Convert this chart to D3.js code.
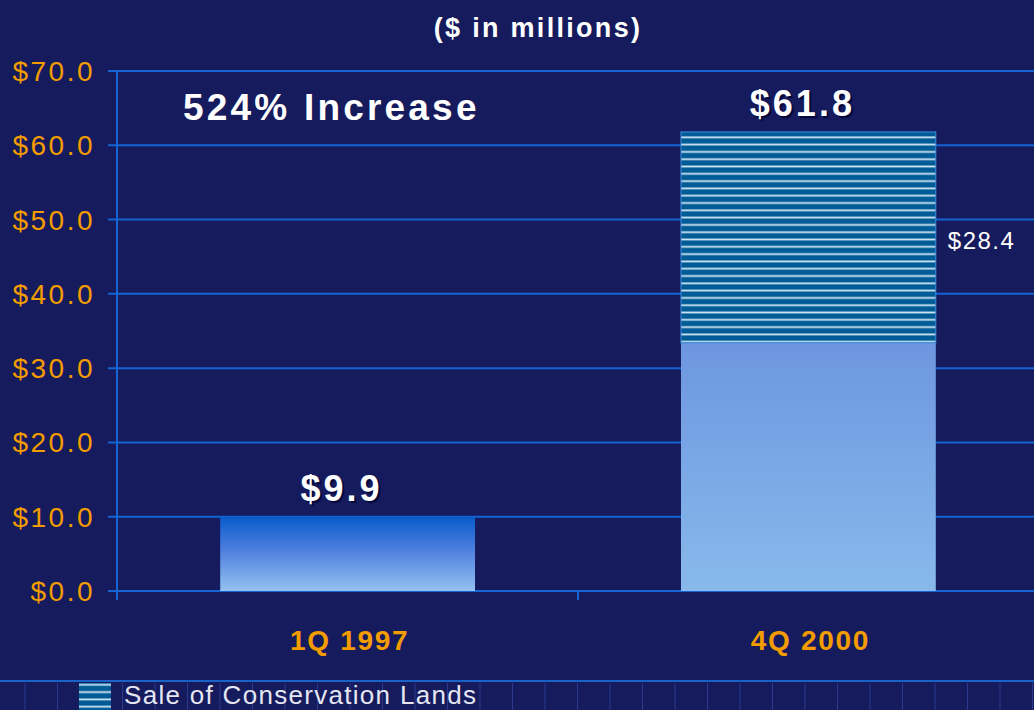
<!DOCTYPE html>
<html>
<head>
<meta charset="utf-8">
<script src="https://cdn.jsdelivr.net/npm/d3@7"></script>
<style>
  html, body { margin: 0; padding: 0; background: #151b5c; }
  svg { display: block; font-family: "Liberation Sans", Arial, sans-serif; }
</style>
</head>
<body>
<div id="chart"></div>
<script>
// data
const categories = ['1Q 1997', '4Q 2000'];
const baseValues = [9.9, 33.4];      // lower (gradient) segment
const landSales = [0, 28.4];         // Sale of Conservation Lands (striped)
const totalLabels = ['$9.9', '$61.8'];
const yTicks = [0, 10, 20, 30, 40, 50, 60, 70];
const legendLabel = 'Sale of Conservation Lands';

const W = 1034, H = 710;
const plotLeft = 117, plotTop = 71, plotBottom = 591, plotRight = 1039;

const svg = d3.select('#chart').append('svg')
  .attr('width', W).attr('height', H);

const defs = svg.append('defs');

// stripes for the land sales segment
const pat = defs.append('pattern')
  .attr('id', 'stripes')
  .attr('patternUnits', 'userSpaceOnUse')
  .attr('width', 8).attr('height', 7.3);
pat.append('rect').attr('width', 8).attr('height', 7.3).attr('fill', '#005c97');
pat.append('rect').attr('y', 5).attr('width', 8).attr('height', 1.8).attr('fill', '#cfe4f2');

const g1 = defs.append('linearGradient').attr('id', 'grad1')
  .attr('x1', 0).attr('y1', 0).attr('x2', 0).attr('y2', 1);
g1.append('stop').attr('offset', '0%').attr('stop-color', '#0a5ccc');
g1.append('stop').attr('offset', '45%').attr('stop-color', '#4f80e0');
g1.append('stop').attr('offset', '100%').attr('stop-color', '#94c2ef');

const g2 = defs.append('linearGradient').attr('id', 'grad2')
  .attr('x1', 0).attr('y1', 0).attr('x2', 0).attr('y2', 1);
g2.append('stop').attr('offset', '0%').attr('stop-color', '#6d96e0');
g2.append('stop').attr('offset', '100%').attr('stop-color', '#88b9eb');

const y = d3.scaleLinear().domain([0, 70]).range([plotBottom, plotTop]);
const x = d3.scaleBand().domain(categories)
  .range([plotLeft, plotRight])
  .paddingInner(0.447)
  .paddingOuter(0.224);

// gridlines
svg.append('g').selectAll('line')
  .data(yTicks)
  .enter().append('line')
  .attr('x1', plotLeft - 9).attr('x2', W)
  .attr('y1', d => y(d)).attr('y2', d => y(d))
  .attr('stroke', '#1565d4').attr('stroke-width', 2);

// y axis line + labels
svg.append('line')
  .attr('x1', plotLeft).attr('x2', plotLeft)
  .attr('y1', plotTop).attr('y2', plotBottom + 9)
  .attr('stroke', '#1565d4').attr('stroke-width', 2);

svg.append('g').selectAll('text')
  .data(yTicks)
  .enter().append('text')
  .attr('x', 95).attr('y', d => y(d) + 10)
  .attr('text-anchor', 'end')
  .attr('fill', '#f39c00')
  .style('font-size', '28px')
  .style('letter-spacing', '2.5px')
  .text(d => '$' + d.toFixed(1));

// category boundary tick
const step = x.step();
const midX = x(categories[0]) + x.bandwidth() + (step - x.bandwidth()) / 2;
svg.append('line')
  .attr('x1', midX).attr('x2', midX)
  .attr('y1', plotBottom).attr('y2', plotBottom + 9)
  .attr('stroke', '#1565d4').attr('stroke-width', 2);

// lower segments
svg.append('g').selectAll('rect')
  .data(categories)
  .enter().append('rect')
  .attr('x', d => x(d))
  .attr('width', x.bandwidth())
  .attr('y', (d, i) => y(baseValues[i]))
  .attr('height', (d, i) => y(0) - y(baseValues[i]))
  .attr('fill', (d, i) => i === 0 ? 'url(#grad1)' : 'url(#grad2)');

// striped segments
svg.append('g').selectAll('rect')
  .data(categories.filter((d, i) => landSales[i] > 0))
  .enter().append('rect')
  .attr('x', d => x(d))
  .attr('width', x.bandwidth())
  .attr('y', d => {
    const i = categories.indexOf(d);
    return y(baseValues[i] + landSales[i]);
  })
  .attr('height', d => {
    const i = categories.indexOf(d);
    return y(baseValues[i]) - y(baseValues[i] + landSales[i]);
  })
  .attr('fill', 'url(#stripes)')
  .attr('stroke', '#3f8ee0').attr('stroke-width', 1);

// total labels with a dark drop shadow
categories.forEach((c, i) => {
  const cx = x(c) + x.bandwidth() / 2 - 6;
  const ty = y(baseValues[i] + landSales[i]) - 16;
  [['#05083a', 2], ['#ffffff', 0]].forEach(([col, off]) => {
    svg.append('text')
      .attr('x', cx + off).attr('y', ty + off)
      .attr('text-anchor', 'middle').attr('font-weight', 'bold')
      .style('font-size', '36px').style('letter-spacing', '3px')
      .attr('fill', col)
      .text(totalLabels[i]);
  });
});

// segment label for land sales
categories.forEach((c, i) => {
  if (!landSales[i]) return;
  const my = y(baseValues[i] + landSales[i] / 2);
  svg.append('text')
    .attr('x', x(c) + x.bandwidth() + 12).attr('y', my + 12)
    .attr('fill', '#ffffff')
    .style('font-size', '24px')
    .style('letter-spacing', '1.5px')
    .text('$' + landSales[i].toFixed(1));
});

// category labels
svg.append('g').selectAll('text')
  .data(categories)
  .enter().append('text')
  .attr('x', d => x(d) + x.bandwidth() / 2 + 2)
  .attr('y', 650)
  .attr('text-anchor', 'middle')
  .attr('font-weight', 'bold')
  .attr('fill', '#f39c00')
  .style('font-size', '28px')
  .style('letter-spacing', '1.7px')
  .text(d => d);

// title + annotation
svg.append('text')
  .attr('x', 538).attr('y', 37)
  .attr('text-anchor', 'middle').attr('font-weight', 'bold')
  .attr('fill', '#ffffff').style('font-size', '27px')
  .style('letter-spacing', '2.3px')
  .text('($ in millions)');

svg.append('text')
  .attr('x', 183).attr('y', 120)
  .attr('font-weight', 'bold')
  .attr('fill', '#ffffff').style('font-size', '37px')
  .style('letter-spacing', '3.2px')
  .text('524% Increase');

// legend strip at the bottom
svg.append('line')
  .attr('x1', 0).attr('x2', W).attr('y1', 681).attr('y2', 681)
  .attr('stroke', '#1a62c8').attr('stroke-width', 2);

svg.append('g').selectAll('line')
  .data(d3.range(25, W, 32.5))
  .enter().append('line')
  .attr('x1', d => d).attr('x2', d => d)
  .attr('y1', 683).attr('y2', H)
  .attr('stroke', '#2b3a8c').attr('stroke-width', 1);

svg.append('rect')
  .attr('x', 79).attr('y', 683).attr('width', 32).attr('height', 27)
  .attr('fill', 'url(#stripes)');

svg.append('text')
  .attr('x', 124).attr('y', 704)
  .attr('fill', '#e4e6f2')
  .style('font-size', '26px')
  .style('letter-spacing', '1.3px')
  .text(legendLabel);
</script>
</body>
</html>
